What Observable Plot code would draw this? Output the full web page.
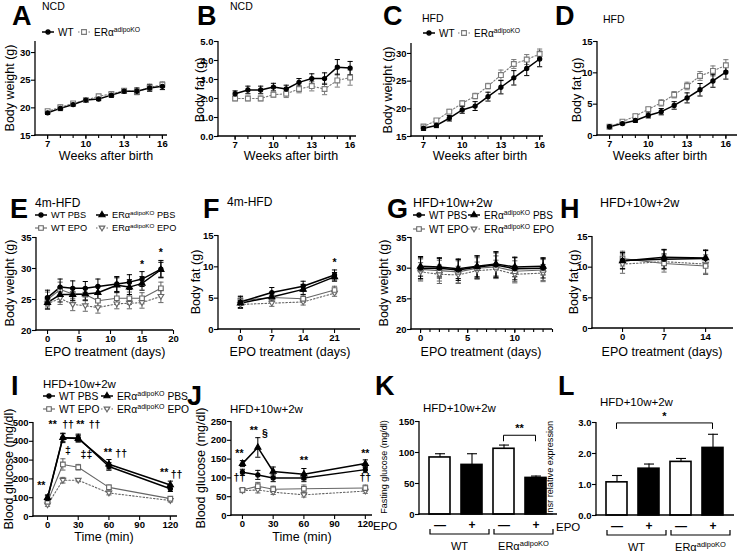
<!DOCTYPE html>
<html><head><meta charset="utf-8">
<script src="https://cdn.jsdelivr.net/npm/d3@7"></script>
<script src="https://cdn.jsdelivr.net/npm/@observablehq/plot@0.6"></script>
<style>
html,body{margin:0;padding:0;background:#fff;}
#fig{position:relative;width:740px;height:553px;overflow:hidden;background:#fff;}
#fig svg{position:absolute;overflow:visible;}
#fig g[aria-label="x-axis tick label"], #fig g[aria-label="y-axis tick label"]{font-weight:bold;}
</style></head><body><div id="fig"></div>
<script>
// ---------------- DATA ----------------
const weeks = [7,8,9,10,11,12,13,14,15,16];
const A_wt = [19.1,19.9,20.6,21.4,21.6,22.3,23.0,23.0,23.6,23.9];
const A_wt_err = [0.3,0.4,0.3,0.3,0.3,0.4,0.4,0.6,0.6,0.6];
const A_ko = [19.4,20.1,20.8,21.4,22.1,22.5,23.1,22.9,23.7,24.2];
const A_ko_err = [0.3,0.4,0.3,0.3,0.3,0.3,0.3,0.5,0.6,0.5];
const B_wt = [2.25,2.45,2.45,2.6,2.5,2.85,3.05,3.05,3.65,3.6];
const B_wt_err = [0.15,0.2,0.2,0.2,0.2,0.2,0.25,0.3,0.4,0.35];
const B_ko = [2.0,2.0,2.0,2.2,2.25,2.5,2.65,2.5,2.95,3.1];
const B_ko_err = [0.12,0.12,0.12,0.12,0.2,0.2,0.25,0.3,0.35,0.4];
const C_wt = [16.5,17.0,18.3,19.8,20.5,22.2,23.9,25.6,27.3,29.0];
const C_wt_err = [0.4,0.4,0.5,0.6,0.8,0.8,1.2,1.3,1.3,1.4];
const C_ko = [16.8,17.9,19.5,21.0,22.3,24.1,26.1,28.1,28.9,29.9];
const C_ko_err = [0.3,0.3,0.4,0.4,0.5,0.5,0.9,0.8,0.9,0.9];
const D_wt = [1.4,1.9,2.4,3.2,3.8,4.8,6.0,7.3,8.7,10.1];
const D_wt_err = [0.2,0.2,0.3,0.4,0.5,0.6,0.8,1.0,1.0,1.1];
const D_ko = [1.4,2.2,3.1,4.2,5.2,6.5,7.9,9.5,10.3,11.2];
const D_ko_err = [0.2,0.2,0.3,0.3,0.5,0.5,0.6,0.7,0.8,0.9];

const E_days = [0,2,4,6,8,11,13,15,18];
const E_wtPBS = [25.3,27.0,26.8,26.8,27.1,27.5,27.8,28.3,29.9];
const E_wtPBS_err = [1.2,1.3,1.2,1.1,1.2,1.2,1.2,1.2,1.4];
const E_koPBS = [24.5,25.8,25.8,25.9,26.1,27.3,27.0,27.6,29.8];
const E_koPBS_err = [1.0,1.2,1.0,1.0,1.1,1.2,1.2,1.1,1.2];
const E_wtEPO = [25.0,26.6,25.9,25.8,24.8,25.2,25.2,25.2,26.8];
const E_wtEPO_err = [1.2,1.2,1.0,1.0,1.0,1.0,1.0,0.9,1.0];
const E_koEPO = [24.3,25.2,24.2,24.0,23.7,24.3,24.4,24.5,25.5];
const E_koEPO_err = [0.9,1.0,1.0,0.9,0.9,0.8,0.9,0.9,1.0];
const E_note_x = [15,18], E_note_y = [30.6,32.6], E_note_t = ["*","*"];

const F_days = [0,7,14,21];
const F_wtPBS = [4.4,5.9,6.9,8.7], F_wtPBS_err = [0.9,0.8,0.8,0.8];
const F_koPBS = [4.2,5.2,6.4,8.4], F_koPBS_err = [0.8,0.7,0.8,0.7];
const F_wtEPO = [4.6,5.1,4.9,6.3], F_wtEPO_err = [0.7,0.6,0.6,0.6];
const F_koEPO = [4.0,4.2,4.4,5.8], F_koEPO_err = [0.6,0.5,0.5,0.5];
const F_note_x = [21], F_note_y = [10.7], F_note_t = ["*"];

const G_days = [0,2,4,6,8,10,13];
const G_wtPBS = [30.0,30.0,29.7,30.2,30.5,29.9,30.0], G_wtPBS_err = [1.7,1.6,1.7,1.8,2.0,1.8,1.6];
const G_koPBS = [30.3,30.2,29.9,30.3,30.7,30.2,30.3], G_koPBS_err = [1.6,1.5,1.6,1.7,2.0,1.6,1.4];
const G_wtEPO = [29.8,29.6,29.4,30.0,30.2,29.5,29.7], G_wtEPO_err = [1.7,1.7,1.8,1.7,1.8,1.7,1.7];
const G_koEPO = [29.4,29.0,28.9,29.6,29.8,29.0,29.2], G_koEPO_err = [1.5,1.5,1.4,1.4,1.5,1.4,1.4];

const H_days = [0,7,14];
const H_wtPBS = [11.1,11.3,11.4], H_wtPBS_err = [1.3,1.5,1.3];
const H_koPBS = [11.0,11.6,11.5], H_koPBS_err = [1.3,1.3,1.3];
const H_wtEPO = [11.4,10.6,10.2], H_wtEPO_err = [1.2,1.4,1.4];
const H_koEPO = [10.5,10.9,10.5], H_koEPO_err = [1.5,1.3,1.5];

const time_min = [0,15,30,60,120];
const I_wtPBS = [95,418,418,266,148], I_wtPBS_err = [15,25,20,20,15];
const I_koPBS = [100,420,414,278,168], I_koPBS_err = [15,20,18,25,20];
const I_wtEPO = [78,277,262,155,95], I_wtEPO_err = [10,30,15,12,10];
const I_koEPO = [62,193,193,125,85], I_koEPO_err = [8,15,8,10,8];
const I_note_x = [-6,5,20,32,46,20,38,59,72,114,126];
const I_note_y = [165,490,490,490,490,352,328,340,335,235,225];
const I_note_t = ["**","**","††","**","††","‡","‡‡","**","††","**","††"];

const J_wtPBS = [115,108,100,100,122], J_wtPBS_err = [8,12,10,10,8];
const J_koPBS = [138,181,117,110,138], J_koPBS_err = [8,26,12,15,10];
const J_wtEPO = [68,78,70,71,73], J_wtEPO_err = [6,10,8,10,8];
const J_koEPO = [66,68,62,55,65], J_koEPO_err = [5,8,6,6,6];
const J_note_x = [-3,11,22,60,120,-3,120];
const J_note_y = [165,225,218,145,165,100,100];
const J_note_t = ["**","**","§","**","**","††","††"];

const bar_cats = ["WT−","WT+","KO−","KO+"];
const bar_signs = ["—","+","—","+"];
const K_vals = [92,80,106,59], K_err = [6,18,6,3];
const L_vals = [1.07,1.51,1.73,2.18], L_err = [0.22,0.15,0.11,0.44];

// ---------------- STYLE ----------------
const FONT = '"Liberation Sans", Arial, Helvetica, sans-serif';
const BLK = "#000", GRY = "#666", LGRY = "#7a7a7a";
const capSym = {draw(ctx, size){const r=Math.sqrt(size/Math.PI); ctx.moveTo(-r,0); ctx.lineTo(r,0);}};
const triDown = {draw(ctx, size){const r=Math.sqrt(size/Math.PI)*1.1; ctx.moveTo(-r,-0.65*r); ctx.lineTo(r,-0.65*r); ctx.lineTo(0,r); ctx.closePath();}};
const ST = {
  WT:    {color:BLK, sym:d3.symbolCircle, r:2.1, fill:BLK, lw:1.5, dash:null},
  KO:    {color:LGRY, sym:d3.symbolSquare, r:2.7, fill:"#fff", lw:1.1, dash:"1.5,2"},
  WTPBS: {color:BLK, sym:d3.symbolCircle, r:2.1, fill:BLK, lw:1.5, dash:null},
  KOPBS: {color:BLK, sym:d3.symbolTriangle, r:2.3, fill:BLK, lw:1.5, dash:null},
  WTEPO: {color:GRY, sym:d3.symbolSquare, r:2.6, fill:"#fff", lw:1.1, dash:null},
  KOEPO: {color:GRY, sym:triDown, r:2.6, fill:"#fff", lw:1.1, dash:"1.5,2"}
};

const fig = document.getElementById("fig");
function place(svg, left, top){svg.style.left = left+"px"; svg.style.top = top+"px"; fig.appendChild(svg);}

function axisLines(){
  return (index, scales, values, dims) => {
    const {marginLeft:l, marginTop:t, marginRight:r, marginBottom:b, width:w, height:h} = dims;
    const g = d3.create("svg:g").attr("stroke","#000").attr("stroke-width",1.3).attr("fill","none");
    g.append("line").attr("x1",l).attr("x2",l).attr("y1",t).attr("y2",h-b+0.65);
    g.append("line").attr("x1",l-0.65).attr("x2",w-r).attr("y1",h-b).attr("y2",h-b);
    return g.node();
  };
}

function linePanel(p){
  const mL=32, mR=8, mT=10, mB=16;
  const width = p.ax1 - p.ax + mL + mR, height = p.ay0 - p.ay1 + mT + mB;
  const marks = [axisLines()];
  if (p.xMinor) marks.push(Plot.axisX({ticks:p.xMinor, tickSize:3, tickFormat:()=> "", label:null, strokeWidth:1.1}));
  marks.push(Plot.axisX({ticks:p.xTicks, tickSize:4, tickPadding:0.5, label:null, fontSize:9.5, strokeWidth:1.1}));
  marks.push(Plot.axisY({ticks:p.yTicks, tickSize:4, tickPadding:1, label:null, fontSize:9.5, strokeWidth:1.1}));
  const sets = p.series.map(s => ({st:ST[s.type], rows:s.x.map((x,i)=>({x, y:s.y[i], e:s.e[i]}))}));
  for (const {st, rows} of sets){
    marks.push(Plot.ruleX(rows, {x:"x", y1:d=>d.y-d.e, y2:d=>d.y+d.e, stroke:st.color, strokeWidth:1}));
    marks.push(Plot.dot(rows, {x:"x", y:d=>d.y+d.e, symbol:capSym, r:2.6, stroke:st.color, fill:"none", strokeWidth:1}));
    marks.push(Plot.dot(rows, {x:"x", y:d=>d.y-d.e, symbol:capSym, r:2.6, stroke:st.color, fill:"none", strokeWidth:1}));
  }
  for (const {st, rows} of sets){
    marks.push(Plot.line(rows, {x:"x", y:"y", stroke:st.color, strokeWidth:st.lw, strokeDasharray:st.dash}));
  }
  for (const {st, rows} of sets){
    marks.push(Plot.dot(rows, {x:"x", y:"y", symbol:st.sym, r:st.r, fill:st.fill, stroke:st.color, strokeWidth:1.1}));
  }
  if (p.notes){
    const nr = p.notes.x.map((x,i)=>({x, y:p.notes.y[i], t:p.notes.t[i]}));
    marks.push(Plot.text(nr, {x:"x", y:"y", text:"t", fontSize:10.5, fontWeight:"bold", lineAnchor:"middle", fill:"#000"}));
  }
  const svg = Plot.plot({
    width, height, marginLeft:mL, marginRight:mR, marginTop:mT, marginBottom:mB,
    x:{domain:p.xd}, y:{domain:p.yd},
    style:{fontFamily:FONT, fontSize:"9.5px", background:"transparent", overflow:"visible", color:"#000"},
    marks
  });
  place(svg, p.ax - mL, p.ay1 - mT);
}

function barPanel(p){
  const mL=32, mR=14, mT=18, mB=44;
  const width = p.ax1 - p.ax + mL + mR, height = p.ay0 - p.ay1 + mT + mB;
  const rows = bar_cats.map((c,i)=>({c, v:p.vals[i], e:p.err[i], s:bar_signs[i]}));
  const signOf = Object.fromEntries(bar_cats.map((c,i)=>[c, bar_signs[i]]));
  const deco = (index, scales, values, dims) => {
    const x = scales.x, y = scales.y;
    const bw = typeof x.bandwidth === "function" ? x.bandwidth() : 0;
    const y0 = dims.height - dims.marginBottom;
    const g = d3.create("svg:g").attr("fill","none").attr("stroke","#000").attr("stroke-width",1.2);
    for (const grp of p.groups){
      const x1 = x(bar_cats[grp.from]) + 1, x2 = x(bar_cats[grp.to]) + bw + 7;
      g.append("path").attr("d", `M${x1},${y0+15}V${y0+20}H${x2}V${y0+15}`);
      const t = g.append("text").attr("x",(x1+x2)/2).attr("y",y0+36).attr("stroke","none").attr("fill","#000")
        .attr("text-anchor","middle").attr("font-size",11).attr("font-family",FONT);
      t.append("tspan").text(grp.label);
      if (grp.sup) t.append("tspan").attr("dy",-4).attr("font-size",7.5).text(grp.sup);
    }
    const s = p.sig;
    const xa = x(bar_cats[s.from]) + bw/2, xb = x(bar_cats[s.to]) + bw/2, ys = y(s.y);
    g.append("path").attr("d", `M${xa},${ys+6}V${ys}H${xb}V${ys+6}`).attr("stroke-width",1);
    g.append("text").attr("x",(xa+xb)/2).attr("y",ys-3).attr("stroke","none").attr("fill","#000")
      .attr("text-anchor","middle").attr("font-size",11).attr("font-weight","bold").attr("font-family",FONT).text(s.label);
    return g.node();
  };
  const marks = [
    Plot.barY(rows, {filter:d=>d.s==="—", x:"c", y:"v", fill:"#fff", stroke:"#000", strokeWidth:1.6}),
    Plot.barY(rows, {filter:d=>d.s==="+", x:"c", y:"v", fill:"#000", stroke:"#000", strokeWidth:1.6}),
    Plot.ruleX(rows, {x:"c", y1:"v", y2:d=>d.v+d.e, stroke:"#000", strokeWidth:1.1}),
    Plot.dot(rows, {x:"c", y:d=>d.v+d.e, symbol:capSym, r:5, stroke:"#000", fill:"none", strokeWidth:1.1}),
    axisLines(),
    Plot.axisY({ticks:p.yTicks, tickSize:4, tickPadding:1, label:null, fontSize:9.5, strokeWidth:1.1}),
    Plot.axisX({tickSize:0, tickPadding:6, tickFormat:c=>signOf[c], label:null, fontSize:12}),
    deco
  ];
  const svg = Plot.plot({
    width, height, marginLeft:mL, marginRight:mR, marginTop:mT, marginBottom:mB,
    x:{type:"band", domain:bar_cats, paddingInner:0.34, paddingOuter:0.28, align:0.5},
    y:{domain:p.yd},
    style:{fontFamily:FONT, fontSize:"9.5px", background:"transparent", overflow:"visible", color:"#000"},
    marks
  });
  place(svg, p.ax - mL, p.ay1 - mT);
}

// ---------------- PANELS ----------------
const weekMinor = weeks, weekMajor = [7,10,13,16];
linePanel({ax:35, ax1:167, ay0:135, ay1:41, xd:[6.05,16.4], yd:[15,32], xTicks:weekMajor, xMinor:weekMinor, yTicks:[15,20,25,30],
  series:[{type:"KO", x:weeks, y:A_ko, e:A_ko_err},{type:"WT", x:weeks, y:A_wt, e:A_wt_err}]});
linePanel({ax:218, ax1:356, ay0:136, ay1:41, xd:[5.7,16.5], yd:[0,5], xTicks:weekMajor, xMinor:weekMinor, yTicks:[0,1,2,3,4,5],
  series:[{type:"KO", x:weeks, y:B_ko, e:B_ko_err},{type:"WT", x:weeks, y:B_wt, e:B_wt_err}]});
linePanel({ax:411, ax1:543, ay0:136, ay1:43, xd:[6.07,16.3], yd:[15,31.8], xTicks:weekMajor, xMinor:weekMinor, yTicks:[15,20,25,30],
  series:[{type:"KO", x:weeks, y:C_ko, e:C_ko_err},{type:"WT", x:weeks, y:C_wt, e:C_wt_err}]});
linePanel({ax:597, ax1:737, ay0:135, ay1:41, xd:[6.07,16.9], yd:[0,15], xTicks:weekMajor, xMinor:weekMinor, yTicks:[0,5,10,15],
  series:[{type:"KO", x:weeks, y:D_ko, e:D_ko_err},{type:"WT", x:weeks, y:D_wt, e:D_wt_err}]});

linePanel({ax:36, ax1:173, ay0:330, ay1:237, xd:[-1.75,20], yd:[20,35], xTicks:[0,5,10,15,20], yTicks:[20,25,30,35],
  series:[{type:"KOEPO", x:E_days, y:E_koEPO, e:E_koEPO_err},{type:"WTEPO", x:E_days, y:E_wtEPO, e:E_wtEPO_err},
          {type:"KOPBS", x:E_days, y:E_koPBS, e:E_koPBS_err},{type:"WTPBS", x:E_days, y:E_wtPBS, e:E_wtPBS_err}],
  notes:{x:E_note_x, y:E_note_y, t:E_note_t}});
linePanel({ax:218, ax1:360, ay0:329, ay1:235, xd:[-4.9,26.8], yd:[0,15], xTicks:[0,7,14,21], yTicks:[0,5,10,15],
  series:[{type:"KOEPO", x:F_days, y:F_koEPO, e:F_koEPO_err},{type:"WTEPO", x:F_days, y:F_wtEPO, e:F_wtEPO_err},
          {type:"KOPBS", x:F_days, y:F_koPBS, e:F_koPBS_err},{type:"WTPBS", x:F_days, y:F_wtPBS, e:F_wtPBS_err}],
  notes:{x:F_note_x, y:F_note_y, t:F_note_t}});
linePanel({ax:411, ax1:552, ay0:329, ay1:237, xd:[-0.96,14], yd:[20,35], xTicks:[0,5,10], xMinor:d3.range(0,15), yTicks:[20,25,30,35],
  series:[{type:"KOEPO", x:G_days, y:G_koEPO, e:G_koEPO_err},{type:"WTEPO", x:G_days, y:G_wtEPO, e:G_wtEPO_err},
          {type:"KOPBS", x:G_days, y:G_koPBS, e:G_koPBS_err},{type:"WTPBS", x:G_days, y:G_wtPBS, e:G_wtPBS_err}]});
linePanel({ax:592, ax1:733, ay0:328, ay1:236, xd:[-5.06,18.7], yd:[0,15], xTicks:[0,7,14], yTicks:[0,5,10,15],
  series:[{type:"KOEPO", x:H_days, y:H_koEPO, e:H_koEPO_err},{type:"WTEPO", x:H_days, y:H_wtEPO, e:H_wtEPO_err},
          {type:"KOPBS", x:H_days, y:H_koPBS, e:H_koPBS_err},{type:"WTPBS", x:H_days, y:H_wtPBS, e:H_wtPBS_err}]});

linePanel({ax:33, ax1:177, ay0:516, ay1:422, xd:[-13.7,127], yd:[0,500], xTicks:[0,30,60,90,120], yTicks:[0,100,200,300,400,500],
  series:[{type:"KOEPO", x:time_min, y:I_koEPO, e:I_koEPO_err},{type:"WTEPO", x:time_min, y:I_wtEPO, e:I_wtEPO_err},
          {type:"KOPBS", x:time_min, y:I_koPBS, e:I_koPBS_err},{type:"WTPBS", x:time_min, y:I_wtPBS, e:I_wtPBS_err}],
  notes:{x:I_note_x, y:I_note_y, t:I_note_t}});
linePanel({ax:231, ax1:372, ay0:515, ay1:421, xd:[-10.7,127], yd:[0,250], xTicks:[0,30,60,90,120], yTicks:[0,50,100,150,200,250],
  series:[{type:"KOEPO", x:time_min, y:J_koEPO, e:J_koEPO_err},{type:"WTEPO", x:time_min, y:J_wtEPO, e:J_wtEPO_err},
          {type:"KOPBS", x:time_min, y:J_koPBS, e:J_koPBS_err},{type:"WTPBS", x:time_min, y:J_wtPBS, e:J_wtPBS_err}],
  notes:{x:J_note_x, y:J_note_y, t:J_note_t}});

const groups = [{from:0, to:1, label:"WT"}, {from:2, to:3, label:"ERα", sup:"adipoKO"}];
barPanel({ax:419, ax1:557, ay0:514, ay1:421, yd:[0,150], yTicks:[0,50,100,150], vals:K_vals, err:K_err,
  groups, sig:{from:2, to:3, y:127, label:"**"}});
barPanel({ax:596, ax1:734, ay0:515, ay1:422, yd:[0,3], yTicks:[0,1,2,3], vals:L_vals, err:L_err,
  groups, sig:{from:0, to:3, y:2.97, label:"*"}});

// ---------------- OVERLAY TEXT ----------------
const ov = d3.select(fig).append("svg").attr("width",740).attr("height",553)
  .style("left","0px").style("top","0px").style("pointer-events","none").attr("font-family",FONT);

const letters = [["A",12,25],["B",197,25],["C",383,25],["D",555,25],["E",10,218],["F",203,218],["G",387,218],["H",560,218],
                 ["I",11,395],["J",187,405],["K",375,395],["L",558,395]];
for (const [t,x,y] of letters) ov.append("text").attr("x",x).attr("y",y).attr("font-size",27).attr("font-weight","bold").text(t);

const subtitles = [["NCD",42,10,10.5],["NCD",230,10,10.5],["HFD",422,22,10.5],["HFD",603,23,10.5],
  ["4m-HFD",35,207,12],["4m-HFD",227,206,12],["HFD+10w+2w",413,207,12.5],["HFD+10w+2w",600,207,12.5],
  ["HFD+10w+2w",43,388,11.5],["HFD+10w+2w",230,413,11.5],["HFD+10w+2w",423,412,11.5],["HFD+10w+2w",600,406,11.5]];
for (const [t,x,y,fs] of subtitles) ov.append("text").attr("x",x).attr("y",y).attr("font-size",fs).text(t);

const xTitles = [["Weeks after birth",106,160],["Weeks after birth",291,160],["Weeks after birth",480,160],["Weeks after birth",660,160],
  ["EPO treatment (days)",105,356],["EPO treatment (days)",290,356],["EPO treatment (days)",481,356],["EPO treatment (days)",662,356],
  ["Time (min)",104,541],["Time (min)",302,541]];
for (const [t,x,y] of xTitles) ov.append("text").attr("x",x).attr("y",y).attr("font-size",12.5).attr("text-anchor","middle").text(t);

const yTitles = [["Body weight (g)",10,88,12.5],["Body fat (g)",200,90,12.5],["Body weight (g)",388,90,12.5],["Body fat (g)",577,90,12.5],
  ["Body weight (g)",10,283,12.5],["Body fat (g)",196,282,12.5],["Body weight (g)",384,283,12.5],["Body fat (g)",574,282,12.5],
  ["Blood glucose (mg/dl)",9,469,12.5],["Blood glucose (mg/dl)",201,468,12.5],
  ["Fasting glucose (mg/dl)",384,467,9],["Insr relative expression",550,468,9.2]];
for (const [t,x,y,fs] of yTitles) ov.append("text").attr("transform",`translate(${x},${y}) rotate(-90)`)
  .attr("font-size",fs).attr("text-anchor","middle").attr("dominant-baseline","central").text(t);

for (const [x,y] of [[373,530],[556,531]]) ov.append("text").attr("x",x).attr("y",y).attr("font-size",11.5).text("EPO");

function legendItem(x, y, type, w, fs, label, sup, tail){
  const st = ST[type];
  ov.append("line").attr("x1",x).attr("x2",x+w).attr("y1",y).attr("y2",y).attr("stroke",st.color)
    .attr("stroke-width",st.lw).attr("stroke-dasharray",st.dash);
  ov.append("path").attr("transform",`translate(${x+w/2},${y})`).attr("d", d3.symbol(st.sym, st.r*st.r*Math.PI)())
    .attr("fill",st.fill).attr("stroke",st.color).attr("stroke-width",1.1);
  const t = ov.append("text").attr("x",x+w+4).attr("y",y+fs*0.36).attr("font-size",fs);
  t.append("tspan").text(label);
  if (sup){ t.append("tspan").attr("dy",-fs*0.4).attr("font-size",fs*0.68).text(sup); t.append("tspan").attr("dy",fs*0.4).text(tail || ""); }
}
legendItem(42,32,"WT",12,10,"WT"); legendItem(78,32,"KO",12,10,"ERα","adipoKO");
legendItem(423,33,"WT",12,10,"WT"); legendItem(458,33,"KO",12,10,"ERα","adipoKO");
for (const [x0,x1,y1,y2,fs] of [[35,96,215,228,9.2],[413,468,215,229,10],[43,101,396,409,10.3]]){
  legendItem(x0,y1,"WTPBS",12,fs,"WT PBS"); legendItem(x1,y1,"KOPBS",12,fs,"ERα","adipoKO"," PBS");
  legendItem(x0,y2,"WTEPO",12,fs,"WT EPO"); legendItem(x1,y2,"KOEPO",12,fs,"ERα","adipoKO"," EPO");
}
</script></body></html>
